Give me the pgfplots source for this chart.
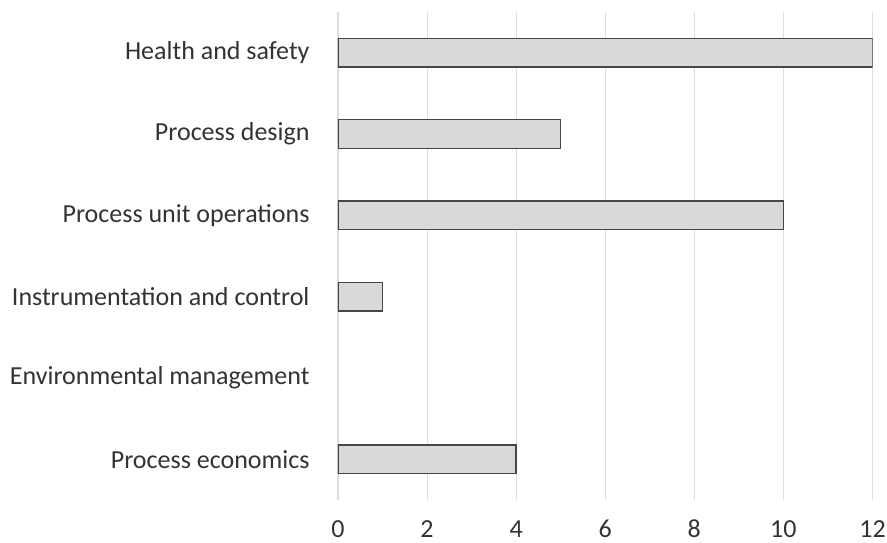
\documentclass[border=0pt]{standalone}
\usepackage{pgfplots}
\pgfplotsset{compat=1.18}
\usepackage{fontspec}
\setmainfont{Carlito}
\definecolor{barfill}{RGB}{217,217,217}
\definecolor{barline}{RGB}{70,70,70}
\definecolor{gridc}{RGB}{220,220,220}
\begin{document}
\begin{tikzpicture}
\begin{axis}[
    scale only axis,
    width=403pt, height=368pt,
    xbar,
    bar width=21.75pt,
    xmin=0, xmax=12,
    ymin=-0.5, ymax=5.5,
    xtick={0,2,...,12},
    ytick={0,1,2,3,4,5},
    yticklabels={Process economics,Environmental management,Instrumentation and control,Process unit operations,Process design,Health and safety},
    axis line style={draw=none},
    xmajorgrids=true,
    major grid style={gridc, line width=0.8pt},
    tick style={draw=none},
    x tick label style={anchor=base, yshift=-28.5pt},
    y tick label style={xshift=-16pt},
    tick label style={font=\fontsize{19.6}{22}\selectfont, text=black!80, inner sep=1pt},
    /pgf/number format/assume math mode=true,
]
\addplot[fill=barfill, draw=barline, line width=1pt]
    coordinates {(4,0) (1,2) (10,3) (5,4) (12,5)};
\end{axis}
\path ([yshift=9pt]current axis.north);
\path ([yshift=-32pt]current axis.south);
\path ([xshift=-6.5pt]current bounding box.west);
\end{tikzpicture}
\end{document}
